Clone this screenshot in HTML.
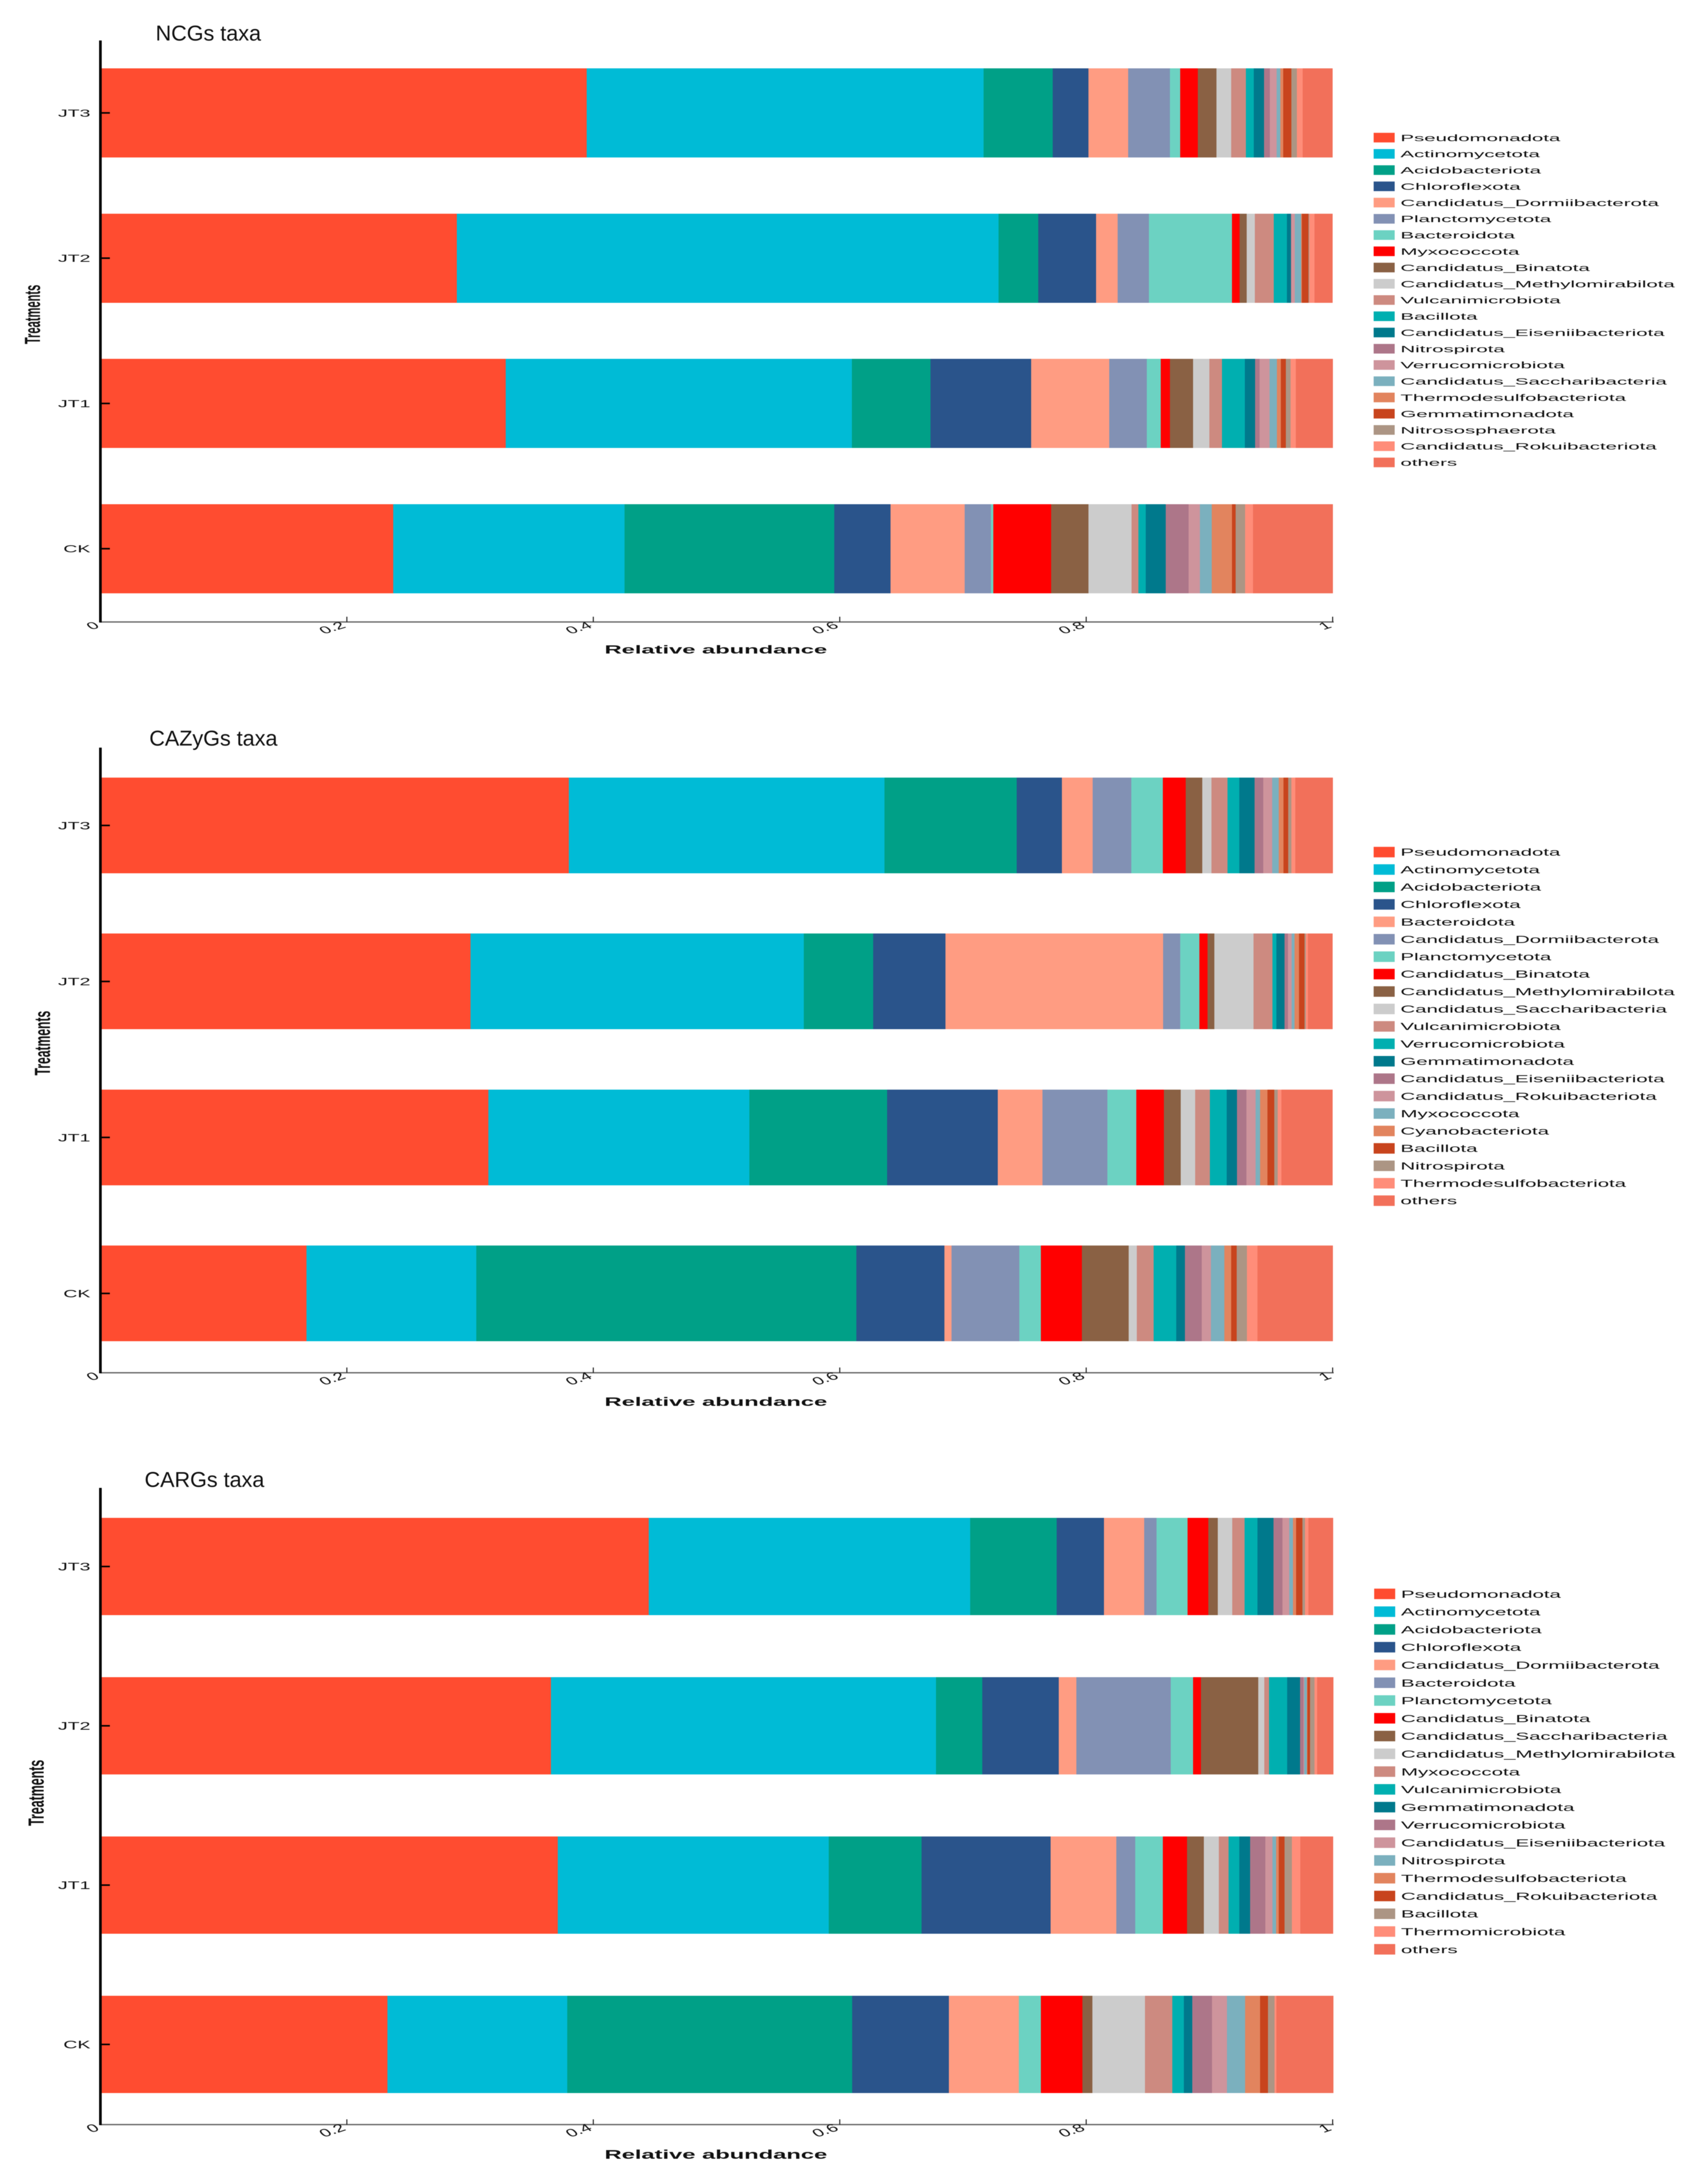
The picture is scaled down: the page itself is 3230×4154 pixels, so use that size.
<!DOCTYPE html>
<html lang="en">
<head>
<meta charset="utf-8">
<title>Relative abundance of taxa</title>
<style>
html,body{margin:0;padding:0;background:#fff;}
svg{display:block;filter:blur(0.6px);}
text{font-family:"Liberation Sans",sans-serif;fill:#111;}
</style>
</head>
<body>
<svg id="figure" xmlns="http://www.w3.org/2000/svg" width="3230" height="4154" viewBox="0 0 3230 4154"></svg>
<script>
const categories = ['JT3', 'JT2', 'JT1', 'CK'];
const xTickValues = [0, 0.2, 0.4, 0.6, 0.8, 1];
const xTickLabels = ['0', '0.2', '0.4', '0.6', '0.8', '1'];
const palette = ['#FF4C30','#00BBD6','#00A087','#2A548B','#FF9C82','#8291B4','#6CD2C2','#FF0000','#8A6144','#CCCCCC','#CD8A80','#00AFB0','#00798C','#AD7689','#CE949C','#7BB0BE','#E2845E','#C8441D','#AC9584','#FF8D79','#F2705A'];

const ncgsTaxa = ['Pseudomonadota','Actinomycetota','Acidobacteriota','Chloroflexota','Candidatus_Dormiibacterota','Planctomycetota','Bacteroidota','Myxococcota','Candidatus_Binatota','Candidatus_Methylomirabilota','Vulcanimicrobiota','Bacillota','Candidatus_Eiseniibacteriota','Nitrospirota','Verrucomicrobiota','Candidatus_Saccharibacteria','Thermodesulfobacteriota','Gemmatimonadota','Nitrososphaerota','Candidatus_Rokuibacteriota','others'];
const ncgsJT3 = [39.46,32.22,5.61,2.89,3.23,3.38,0.83,1.44,1.52,1.18,1.20,0.64,0.83,0.47,0.56,0.29,0.24,0.66,0.44,0.47,2.45];
const ncgsJT2 = [28.93,43.95,3.23,4.70,1.74,2.55,6.73,0.61,0.59,0.66,1.54,1.05,0.32,0.05,0.27,0.51,0.07,0.54,0.07,0.42,1.47];
const ncgsJT1 = [32.89,28.10,6.38,8.16,6.34,3.04,1.15,0.73,1.89,1.32,1.03,1.84,0.83,0.37,0.81,0.59,0.32,0.42,0.37,0.44,3.01];
const ncgsCK = [23.76,18.78,17.02,4.56,6.02,2.13,0.20,4.68,3.04,3.50,0.54,0.61,1.62,1.86,0.91,0.96,1.64,0.29,0.78,0.64,6.49];

const cazyTaxa = ['Pseudomonadota','Actinomycetota','Acidobacteriota','Chloroflexota','Bacteroidota','Candidatus_Dormiibacterota','Planctomycetota','Candidatus_Binatota','Candidatus_Methylomirabilota','Candidatus_Saccharibacteria','Vulcanimicrobiota','Verrucomicrobiota','Gemmatimonadota','Candidatus_Eiseniibacteriota','Candidatus_Rokuibacteriota','Myxococcota','Cyanobacteriota','Bacillota','Nitrospirota','Thermodesulfobacteriota','others'];
const cazyJT3 = [38.01,25.63,10.71,3.67,2.50,3.13,2.57,1.86,1.35,0.73,1.30,0.96,1.25,0.69,0.73,0.54,0.39,0.37,0.27,0.32,3.04];
const cazyJT2 = [30.03,27.05,5.63,5.86,17.68,1.37,1.57,0.66,0.56,3.16,1.54,0.32,0.66,0.29,0.29,0.24,0.37,0.44,0.10,0.17,2.01];
const cazyJT1 = [31.48,21.18,11.18,8.99,3.62,5.27,2.35,2.23,1.37,1.18,1.18,1.37,0.83,0.78,0.73,0.37,0.59,0.56,0.29,0.29,4.16];
const cazyCK = [16.72,13.79,30.84,7.14,0.59,5.49,1.76,3.31,3.80,0.66,1.37,1.84,0.71,1.35,0.76,1.08,0.56,0.44,0.83,0.86,6.12];

const cargsTaxa = ['Pseudomonadota','Actinomycetota','Acidobacteriota','Chloroflexota','Candidatus_Dormiibacterota','Bacteroidota','Planctomycetota','Candidatus_Binatota','Candidatus_Saccharibacteria','Candidatus_Methylomirabilota','Myxococcota','Vulcanimicrobiota','Gemmatimonadota','Verrucomicrobiota','Candidatus_Eiseniibacteriota','Nitrospirota','Thermodesulfobacteriota','Candidatus_Rokuibacteriota','Bacillota','Thermomicrobiota','others'];
const cargsJT3 = [44.50,26.08,7.03,3.84,3.26,1.00,2.52,1.67,0.78,1.18,1.00,1.03,1.32,0.71,0.56,0.29,0.27,0.51,0.22,0.27,2.01];
const cargsJT2 = [36.56,31.25,3.75,6.22,1.42,7.67,1.81,0.64,4.65,0.49,0.37,1.49,1.03,0.29,0.05,0.22,0.05,0.20,0.37,0.22,1.32];
const cargsJT1 = [37.12,21.99,7.52,10.48,5.34,1.54,2.23,1.96,1.37,1.22,0.78,0.88,0.88,1.22,0.59,0.29,0.22,0.47,0.59,0.69,2.67];
const cargsCK = [23.29,14.59,23.13,7.85,5.68,0,1.79,3.36,0.81,4.26,2.23,0.93,0.69,1.59,1.22,1.47,1.22,0.64,0.54,0.15,4.63];

const svg = document.getElementById('figure');
const NS = 'http://www.w3.org/2000/svg';
const xLeft = 191;
const xSpan = 2344;

function xScale(percent) {
  return xLeft + (percent / 100) * xSpan;
}

function make(parent, tag, attrs, content) {
  const node = document.createElementNS(NS, tag);
  for (const key in attrs) node.setAttribute(key, attrs[key]);
  if (content !== undefined) node.textContent = content;
  parent.appendChild(node);
  return node;
}

function drawPanel(cfg) {
  const panel = make(svg, 'g', {});
  
  

  const title = make(panel, 'text', {x: cfg.titleX, y: cfg.titleY, 'font-size': 41}, cfg.title);
  
  

  cfg.rows.forEach(function (values, r) {
    const top = cfg.barTop + r * cfg.barStep;
    let running = 0;
    values.forEach(function (v, s) {
      const rect = make(panel, 'rect', {
        x: xScale(running), y: top,
        width: xScale(v) - xScale(0), height: cfg.barHeight,
        fill: palette[s], 'shape-rendering': 'crispEdges'
      });
      
      
      running += v;
    });

    const centre = top + cfg.barHeight / 2;
    const tick = make(panel, 'line', {x1: 190, x2: 209, y1: centre, y2: centre, stroke: '#000', 'stroke-width': 3});
    
    

    const label = make(panel, 'text', {
      transform: 'translate(172,' + (centre + 7 * cfg.sy) + ') scale(1.95,' + cfg.sy + ')',
      'text-anchor': 'end', 'font-size': 19
    }, categories[r]);
    
    
  });

  const xAxis = make(panel, 'line', {x1: xLeft, x2: xScale(100) + 2, y1: cfg.axisY, y2: cfg.axisY, stroke: '#666', 'stroke-width': 2.5});
  
  

  const yAxis = make(panel, 'line', {x1: xLeft, x2: xLeft, y1: cfg.axisTop, y2: cfg.axisY + 1, stroke: '#000', 'stroke-width': 5});
  
  

  xTickValues.forEach(function (t, i) {
    const px = xScale(t * 100);
    if (i > 0) {
      const tick = make(panel, 'line', {x1: px, x2: px, y1: cfg.axisY, y2: cfg.axisY - 10, stroke: '#222', 'stroke-width': 2});
      
      
    }
    const label = make(panel, 'text', {
      transform: 'translate(' + px + ',' + (cfg.axisY + 10) + ') scale(1.9,' + cfg.sy + ') rotate(-30)',
      'text-anchor': 'end', 'font-size': 19
    }, xTickLabels[i]);
    
    
  });

  const xTitle = make(panel, 'text', {
    transform: 'translate(1150,' + cfg.xTitleY + ') scale(2.05,' + cfg.sy + ')',
    'font-size': 22, 'font-weight': 'bold'
  }, 'Relative abundance');
  
  

  const yTitle = make(panel, 'text', {
    transform: 'translate(' + cfg.yTitleX + ',' + cfg.yTitleY + ') rotate(-90) scale(' + cfg.yTitleScale + ',1)',
    'text-anchor': 'middle', 'font-size': 42, 'font-weight': 'bold'
  }, 'Treatments');
  
  

  const legend = make(panel, 'g', {});
  
  

  cfg.taxa.forEach(function (name, s) {
    const y = cfg.legendY + s * cfg.legendStep;
    const swatch = make(legend, 'rect', {x: cfg.legendX, y: y, width: 40, height: cfg.legendH, fill: palette[s]});
    
    
    const text = make(legend, 'text', {
      transform: 'translate(' + (cfg.legendX + 51) + ',' + (y + cfg.legendH / 2 + 6.5 * cfg.sy) + ') scale(2.156,' + cfg.sy + ')',
      'font-size': 18, fill: '#222'
    }, name);
    
    
  });
}

drawPanel({
  key: 'ncgs', title: 'NCGs taxa', titleX: 296, titleY: 77, sy: 1,
  taxa: ncgsTaxa, rows: [ncgsJT3, ncgsJT2, ncgsJT1, ncgsCK],
  barTop: 130, barStep: 276.3, barHeight: 169.5,
  axisTop: 77, axisY: 1183, xTitleY: 1243, yTitleX: 76, yTitleY: 598, yTitleScale: 0.504,
  legendX: 2613, legendY: 252.6, legendStep: 30.89, legendH: 18.3
});
drawPanel({
  key: 'cazygs', title: 'CAZyGs taxa', titleX: 284, titleY: 1418, sy: 1.07,
  taxa: cazyTaxa, rows: [cazyJT3, cazyJT2, cazyJT1, cazyCK],
  barTop: 1479, barStep: 296.7, barHeight: 182,
  axisTop: 1422, axisY: 2611, xTitleY: 2674, yTitleX: 95, yTitleY: 1984, yTitleScale: 0.549,
  legendX: 2613, legendY: 1610.7, legendStep: 33.15, legendH: 20
});
drawPanel({
  key: 'cargs', title: 'CARGs taxa', titleX: 275, titleY: 2828, sy: 1.1,
  taxa: cargsTaxa, rows: [cargsJT3, cargsJT2, cargsJT1, cargsCK],
  barTop: 2887, barStep: 303, barHeight: 185,
  axisTop: 2830, axisY: 4041, xTitleY: 4106, yTitleX: 83, yTitleY: 3410, yTitleScale: 0.562,
  legendX: 2614, legendY: 3021.6, legendStep: 33.8, legendH: 20
});
</script>
</body>
</html>
